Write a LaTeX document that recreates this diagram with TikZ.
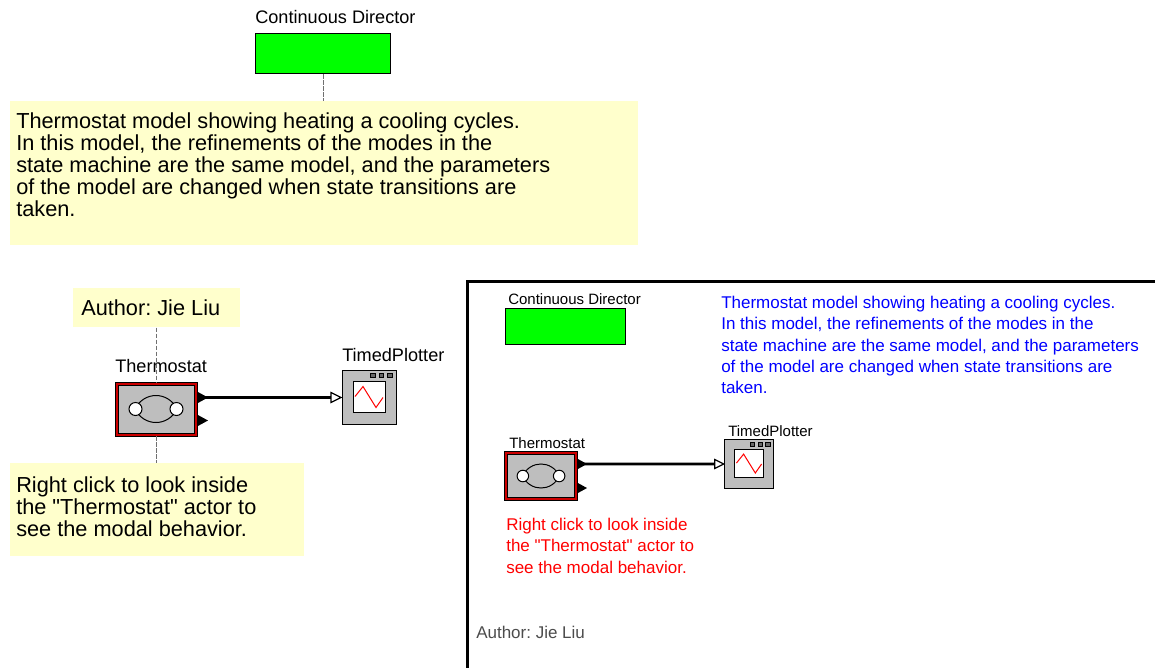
\documentclass[tikz,border=0pt]{standalone}
\usepackage{fontspec}
\setmainfont{Liberation Sans}[Ligatures=TeXOff]
\usetikzlibrary{calc,arrows.meta}
\definecolor{notecol}{HTML}{FFFFCC}
\definecolor{actorgray}{HTML}{BEBEBE}
\definecolor{linkgray}{HTML}{707070}
\tikzset{
  notebox/.style={fill=notecol,draw=none,inner sep=0pt,anchor=north west},
  dirbox/.style={fill=green,draw=black,line width=0.75pt,inner sep=0pt,anchor=north west},
  link/.style={draw=linkgray,dash pattern=on 3.5pt off 1pt,line width=0.75pt},
  wire/.style={draw=black,line width=1.9pt},
  actorline/.style={line width=0.75pt},
  lbl/.style={anchor=base west,inner sep=0pt,font=\frenchspacing\fontsize{13.6}{16}\selectfont},
  smalllbl/.style={anchor=base west,inner sep=0pt,font=\frenchspacing\fontsize{11.25}{14}\selectfont},
  bigtext/.style={anchor=north west,inner sep=0pt,align=left,font=\frenchspacing\fontsize{16.3}{16.5}\selectfont},
  midtext/.style={anchor=north west,inner sep=0pt,align=left,font=\frenchspacing\fontsize{12.75}{16}\selectfont},
  modal/.pic={
    \filldraw[fill=red!80!black,draw=black,actorline] (-41,-27) rectangle (41,27);
    \filldraw[fill=actorgray,draw=black,actorline] (-38,-24) rectangle (38,24);
    \draw[actorline] (-21,0) .. controls (-12,-18) and (12,-18) .. (21,0);
    \draw[actorline] (-21,0) .. controls (-12,18) and (12,18) .. (21,0);
    \filldraw[fill=white,draw=black,actorline] (-20.5,0) circle (6.5);
    \filldraw[fill=white,draw=black,actorline] (20.5,0) circle (6.5);
    \fill (41,-#1-6) -- (52,-#1) -- (41,-#1+6) -- cycle;
    \fill (41,#1-6) -- (52,#1) -- (41,#1+6) -- cycle;
    \coordinate (-out) at (49,-#1);
    \coordinate (-n) at (0,-27);
    \coordinate (-s) at (0,27);
  },
  plotter/.pic={
    \filldraw[fill=actorgray,draw=black,actorline] (-27,-27) rectangle (27,27);
    \filldraw[fill=white,draw=black,actorline] (-16,-16) rectangle (16,15);
    \foreach \sx in {4,12.5,21}
      \filldraw[fill=black!60,draw=black,actorline] (\sx-2.4,-24.4) rectangle (\sx+2.4,-19.6);
    \draw[red,actorline] (-14,-1) -- (-6,-11) -- (7,10) -- (14,0);
    \filldraw[fill=white,draw=black,line width=0.9pt] (-38,-5) -- (-28,0) -- (-38,5) -- cycle;
    \coordinate (-in) at (-38,0);
  },
}
\begin{document}
\begin{tikzpicture}[x=0.75pt,y=-0.75pt,>=Stealth]
  \useasboundingbox (0,0) rectangle (1155,668);

  \node[notebox,minimum width=471pt,minimum height=108pt] (mainNote) at (9.5,101) {};
  \node[notebox,minimum width=125.25pt,minimum height=29.25pt] (authorNote) at (73,288) {};
  \node[notebox,minimum width=220.5pt,minimum height=69.75pt] (rightNote) at (9.5,463) {};
  \node[dirbox,minimum width=101.25pt,minimum height=30pt] (dirA) at (255,33) {};
  \node[dirbox,minimum width=90pt,minimum height=27pt] (dirB) at (505,308) {};

  \pic (thermoA) at (156,409) {modal=11.5};
  \pic (plotterA) at (369,397.5) {plotter};
  \pic[xscale=0.885,yscale=0.89] (thermoB) at (541,476) {modal=13.5};
  \pic[scale=0.9] (plotterB) at (749,464) {plotter};

  \draw[link] (dirA.south) -- (dirA.south |- mainNote.north);
  \draw[link] (authorNote.south) -- (authorNote.south |- thermoA-n);
  \draw[link] (thermoA-s) -- (thermoA-s |- rightNote.north);
  \draw[wire] (thermoA-out) -- (plotterA-in);
  \draw[wire] (thermoB-out) -- (plotterB-in);

  \node[lbl] (dirAlabel) at (255,23) {Continuous Director};
  \node[lbl] (thermoAlabel) at (115,372) {Thermostat};
  \node[lbl] (plotterAlabel) at (342,361) {TimedPlotter};
  \node[smalllbl] (dirBlabel) at (508,304) {Continuous Director};
  \node[smalllbl] (thermoBlabel) at (509,448) {Thermostat};
  \node[smalllbl] (plotterBlabel) at (728,436) {TimedPlotter};

  \node[bigtext] (mainText) at (16,112) {Thermostat model showing heating a cooling cycles.\\In this model, the refinements of the modes in the\\state machine are the same model, and the parameters\\of the model are changed when state transitions are\\taken.};
  \node[bigtext] (authorText) at (81,299) {Author: Jie Liu};
  \node[bigtext] (rightText) at (16,476) {Right click to look inside\\the "Thermostat" actor to\\see the modal behavior.};

  \node[midtext,blue] (blueText) at (721,296) {Thermostat model showing heating a cooling cycles.\\In this model, the refinements of the modes in the\\state machine are the same model, and the parameters\\of the model are changed when state transitions are\\taken.};
  \node[midtext,red] (redText) at (506,518) {Right click to look inside\\the "Thermostat" actor to\\see the modal behavior.};
  \node[midtext,black!70] (authorB) at (476,626) {Author: Jie Liu};

  \coordinate (frameR) at (1155,281);
  \coordinate (frameC) at (467,281);
  \coordinate (frameB) at (467,668);
  \draw[line width=2.25pt] (frameR) -- (frameC) -- (frameB);
\end{tikzpicture}
\end{document}
